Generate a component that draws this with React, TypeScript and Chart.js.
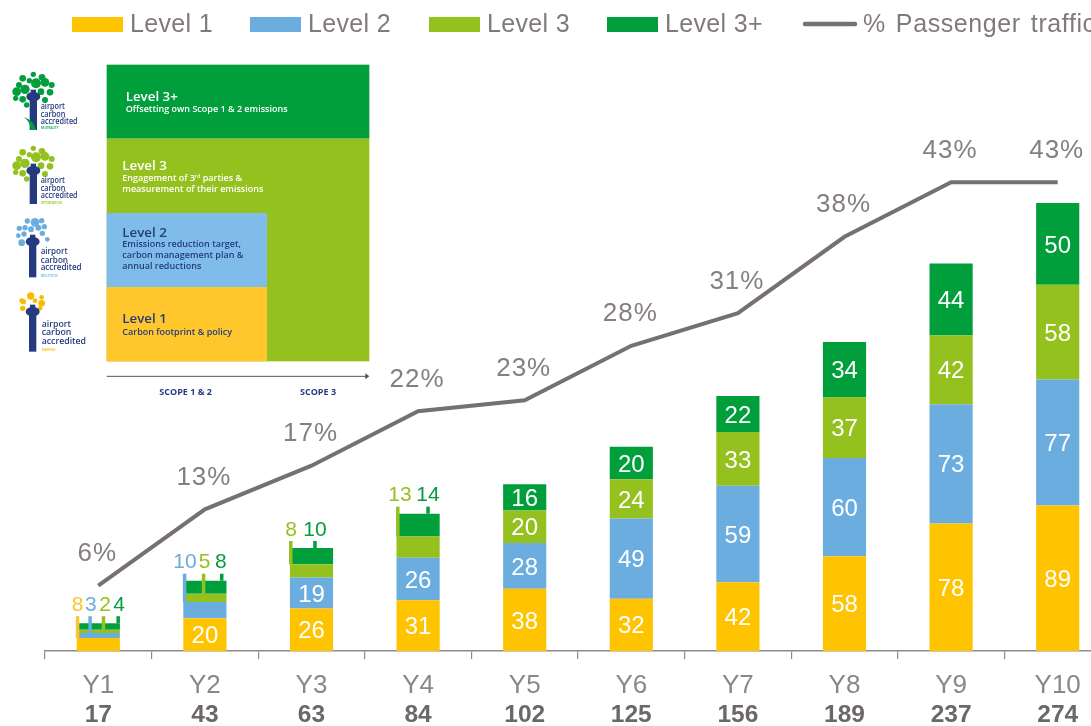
import React, { useEffect, useRef } from "react";
import { Chart, registerables } from "chart.js";

Chart.register(...registerables);

const categories = ["Y1", "Y2", "Y3", "Y4", "Y5", "Y6", "Y7", "Y8", "Y9", "Y10"];
const totals = ["17", "43", "63", "84", "102", "125", "156", "189", "237", "274"];
const level1 = [8, 20, 26, 31, 38, 32, 42, 58, 78, 89];
const level2 = [3, 10, 19, 26, 28, 49, 59, 60, 73, 77];
const level3 = [2, 5, 8, 13, 20, 24, 33, 37, 42, 58];
const level3Plus = [4, 8, 10, 14, 16, 20, 22, 34, 44, 50];
const passengerTraffic = [6, 13, 17, 22, 23, 28, 31, 38, 43, 43];

const YELLOW = "#ffc400";
const BLUE = "#6caddf";
const OLIVE = "#95c11f";
const GREEN = "#009f3c";
const GREY = "#76716f";
const NAVY = "#243b80";

// small segments are labelled above the stack: [dataset, category, leader x fraction, label x fraction]
const callouts: [number, number, number, number][] = [
  [0, 0, 0.02, 0.02], [1, 0, 0.31, 0.33], [2, 0, 0.62, 0.66], [3, 0, 0.96, 0.98],
  [1, 1, 0.03, 0.04], [2, 1, 0.47, 0.49], [3, 1, 0.89, 0.87],
  [2, 2, 0.02, 0.03], [3, 2, 0.58, 0.58],
  [2, 3, 0.03, 0.08], [3, 3, 0.73, 0.73],
];
const calloutColors = ["#fcc52c", BLUE, OLIVE, GREEN];
const legendStarts = [72, 250, 429, 607, 803];

const overlayPlugin = {
  id: "overlay",
  afterDatasetsDraw(chart: any) {
    const { ctx } = chart;
    ctx.save();
    ctx.textAlign = "center";
    ctx.textBaseline = "middle";
    // values inside the bars
    ctx.font = "24px 'Liberation Sans'";
    ctx.fillStyle = "#ffffff";
    for (let d = 0; d < 4; d++) {
      chart.getDatasetMeta(d).data.forEach((bar: any, i: number) => {
        if (callouts.some((c) => c[0] === d && c[1] === i)) return;
        const y = (bar.y + bar.base) / 2;
        ctx.fillText(String(chart.data.datasets[d].data[i]), bar.x, y + 2);
      });
    }
    // leaders and labels above the stack
    callouts.forEach(([d, i, lf, tf]) => {
      const bar = chart.getDatasetMeta(d).data[i];
      const top = chart.getDatasetMeta(3).data[i].y;
      const left = bar.x - bar.width / 2;
      ctx.strokeStyle = calloutColors[d];
      ctx.lineWidth = 3.5;
      ctx.beginPath();
      ctx.moveTo(left + lf * bar.width, top - 7);
      ctx.lineTo(left + lf * bar.width, bar.y);
      ctx.stroke();
      ctx.fillStyle = calloutColors[d];
      ctx.font = "21px 'Liberation Sans'";
      ctx.fillText(String(chart.data.datasets[d].data[i]), left + tf * bar.width, top - 18);
    });
    // percentage labels above the line
    ctx.fillStyle = "#85807e";
    ctx.font = "26px 'Liberation Sans'";
    (ctx as any).letterSpacing = "1px";
    chart.getDatasetMeta(4).data.forEach((pt: any, i: number) => {
      ctx.fillText(passengerTraffic[i] + "%", pt.x - 1, pt.y - 31.5);
    });
    ctx.restore();
  },
  afterDraw(chart: any) {
    const { ctx } = chart;
    ctx.save();
    ctx.font = "25px 'Liberation Sans'";
    ctx.textBaseline = "middle";
    ctx.textAlign = "left";
    chart.data.datasets.forEach((ds: any, d: number) => {
      let x = legendStarts[d];
      if (d < 4) {
        ctx.fillStyle = ds.backgroundColor;
        ctx.fillRect(x, 17, 51, 15);
        x += 51;
        (ctx as any).letterSpacing = "0.35px";
      } else {
        ctx.strokeStyle = ds.borderColor;
        ctx.lineWidth = 4.5;
        ctx.lineCap = "round";
        ctx.beginPath();
        ctx.moveTo(x + 2, 24);
        ctx.lineTo(x + 52, 24);
        ctx.stroke();
        x += 53;
        (ctx as any).letterSpacing = "0.6px";
        (ctx as any).wordSpacing = "2.5px";
      }
      x += 7;
      ctx.fillStyle = "#807b79";
      ctx.fillText(ds.label, x, 25);
    });
    ctx.restore();
  },
};

const leaves1: [number, number, number][] = [
  [68, 85, 10], [100, 73, 8], [126, 82, 10], [88, 92, 8], [108, 100, 15], [135, 97, 13], [155, 105, 9], [57, 105, 9],
  [75, 118, 14], [50, 125, 13], [123, 125, 10], [150, 127, 10], [68, 148, 10], [47, 145, 8], [135, 150, 9], [80, 165, 8],
];
const leaves3: [number, number, number][] = [
  [105, 517, 13], [82, 513, 8], [125, 512, 8], [58, 535, 8], [75, 533, 8], [93, 538, 9], [115, 533, 9], [133, 530, 8],
  [127, 550, 8], [72, 552, 8], [142, 568, 7], [65, 578, 10], [55, 557, 7],
];
const leaves4: [number, number, number][] = [
  [92, 738, 11], [65, 752, 7], [125, 742, 7], [68, 775, 8], [70, 755, 8], [105, 752, 7], [125, 760, 10], [120, 775, 7],
];

function Logo(props: {
  leaves: [number, number, number][]; color: string; dy: number; hx: number; hy: number; bottom: number;
  tx: number; lines: number[]; sub: string; subY: number; size: number; widths: number[];
}) {
  const { leaves, color, dy, hx, hy, bottom, tx, lines, sub, subY, size, widths } = props;
  const words = ["airport", "carbon", "accredited"];
  return (
    <g>
      {leaves.map((l, i) => <circle key={i} cx={l[0]} cy={l[1] + dy} r={l[2]} fill={color} />)}
      <ellipse cx={hx} cy={hy} rx={21} ry={14} fill={NAVY} />
      <rect x={hx - 8} y={hy - 21} width={16} height={12} fill={NAVY} />
      <path d={`M${hx - 11} ${hy + 8} L${hx + 11} ${hy + 8} L${hx + 11} ${bottom} L${hx - 11} ${bottom} Z`} fill={NAVY} />
      {words.map((w, i) => (
        <text key={w} x={tx} y={lines[i]} fontSize={size} fontWeight={600} fill={NAVY} fontFamily="'Open Sans'"
          textLength={widths[i]} lengthAdjust="spacingAndGlyphs">{w}</text>
      ))}
      <text x={tx} y={subY} fontSize={9} fontWeight={600} fill={color} fontFamily="'Open Sans'">{sub}</text>
    </g>
  );
}

function Inset() {
  const title = { fontSize: 40, fontWeight: 600, fontFamily: "'Open Sans'" } as const;
  const body = { fontSize: 27, fontWeight: 600, fontFamily: "'Open Sans'" } as const;
  return (
    <svg viewBox="0 0 1170 1080" width={390} height={360}
      style={{ position: "absolute", left: 0, top: 50, filter: "blur(0.35px)" }}>
      <rect x={320} y={44} width={788} height={222} fill={GREEN} />
      <rect x={320} y={266} width={788} height={668} fill={OLIVE} />
      <rect x={320} y={489} width={481} height={222} fill="#7fbce9" />
      <rect x={320} y={711} width={481} height={223} fill="#ffc72c" />
      <text x={377} y={152} fill="#fff" {...title}>Level 3+</text>
      <text x={377} y={187} fill="#fff" {...body}>Offsetting own Scope 1 &amp; 2 emissions</text>
      <text x={367} y={360} fill="#fff" {...title}>Level 3</text>
      <text x={367} y={393} fill="#fff" {...body}>Engagement of 3<tspan fontSize={15} dy={-9}>rd</tspan><tspan dy={9}> parties &amp;</tspan></text>
      <text x={367} y={425} fill="#fff" {...body}>measurement of their emissions</text>
      <text x={367} y={560} fill={NAVY} {...title}>Level 2</text>
      <text x={367} y={592} fill={NAVY} {...body}>Emissions reduction target,</text>
      <text x={367} y={625} fill={NAVY} {...body}>carbon management plan &amp;</text>
      <text x={367} y={658} fill={NAVY} {...body}>annual reductions</text>
      <text x={367} y={820} fill={NAVY} {...title}>Level 1</text>
      <text x={367} y={855} fill={NAVY} {...body}>Carbon footprint &amp; policy</text>
      <line x1={320} y1={979} x2={1098} y2={979} stroke="#555" strokeWidth={3} />
      <path d="M1096 970 L1108 979 L1096 988 Z" fill="#555" />
      <text x={478} y={1035} fontSize={27} fontWeight={700} fill={NAVY} fontFamily="'Open Sans'">SCOPE 1 &amp; 2</text>
      <text x={900} y={1035} fontSize={27} fontWeight={700} fill={NAVY} fontFamily="'Open Sans'">SCOPE 3</text>
      <Logo leaves={leaves1} color={GREEN} dy={0} hx={100} hy={140} bottom={240} tx={122} lines={[178, 200, 221]} sub="NEUTRALITY" subY={238} size={26} widths={[73, 74, 111]} />
      <path d="M72 202 Q100 210 108 240 L92 240 Q90 215 72 202 Z" fill={GREEN} />
      <Logo leaves={leaves1} color={OLIVE} dy={222} hx={100} hy={362} bottom={462} tx={122} lines={[400, 422, 443]} sub="OPTIMISATION" subY={461} size={26} widths={[73, 74, 111]} />
      <Logo leaves={leaves3} color={BLUE} dy={0} hx={98} hy={575} bottom={682} tx={122} lines={[613, 638, 661]} sub="REDUCTION" subY={682} size={27} widths={[81, 82, 123]} />
      <Logo leaves={leaves4} color="#fbb900" dy={0} hx={98} hy={785} bottom={905} tx={125} lines={[830, 856, 882]} sub="MAPPING" subY={904} size={29} widths={[88, 89, 133]} />
    </svg>
  );
}

export default function App() {
  const ref = useRef<HTMLCanvasElement>(null);
  useEffect(() => {
    const barDs = (label: string, data: number[], color: string) => ({
      type: "bar" as const,
      label,
      data,
      backgroundColor: color,
      stack: "levels",
      yAxisID: "y",
      barPercentage: 0.405,
      categoryPercentage: 1,
      order: 2,
    });
    const chart = new Chart(ref.current as HTMLCanvasElement, {
      data: {
        labels: categories,
        datasets: [
          barDs("Level 1", level1, YELLOW),
          barDs("Level 2", level2, BLUE),
          barDs("Level 3", level3, OLIVE),
          barDs("Level 3+", level3Plus, GREEN),
          {
            type: "line" as const,
            label: "% Passenger traffic",
            data: passengerTraffic,
            borderColor: GREY,
            borderWidth: 4,
            pointRadius: 0,
            tension: 0,
            yAxisID: "y1",
            order: 1,
          },
        ],
      } as any,
      options: {
        responsive: false,
        animation: false,
        layout: { padding: { top: 50, left: 45, right: 19, bottom: 0 } },
        plugins: { legend: { display: false }, tooltip: { enabled: false } },
        scales: {
          x: {
            stacked: true,
            offset: true,
            position: "bottom",
            grid: { display: true, drawOnChartArea: false, offset: true, color: "#8c8c8c", tickLength: 8, lineWidth: 1.2 },
            border: { color: "#8c8c8c", width: 1.5 },
            ticks: { color: "#8a8786", font: { family: "'Liberation Sans'", size: 26 }, padding: 11, maxRotation: 0, autoSkip: false },
            afterFit: (s: any) => { s.height = 48; },
          },
          x2: {
            type: "category",
            labels: totals,
            offset: true,
            position: "bottom",
            grid: { display: false },
            border: { display: false },
            ticks: { color: "#6b6867", font: { family: "'Liberation Sans'", size: 24.5, weight: "bold" }, padding: -6, maxRotation: 0, autoSkip: false },
            afterFit: (s: any) => { s.height = 27; },
          },
          y: { display: false, stacked: true, min: 0, max: 367.6 },
          y1: { display: false, min: 0, max: 55.14 },
        },
      } as any,
      plugins: [overlayPlugin],
    });
    return () => chart.destroy();
  }, []);
  return (
    <div style={{ position: "absolute", left: 0, top: 0, width: 1091, height: 726, overflow: "hidden", background: "#fff" }}>
      <canvas ref={ref} width={1130} height={726} style={{ position: "absolute", left: 0, top: 0 }} />
      <Inset />
    </div>
  );
}
